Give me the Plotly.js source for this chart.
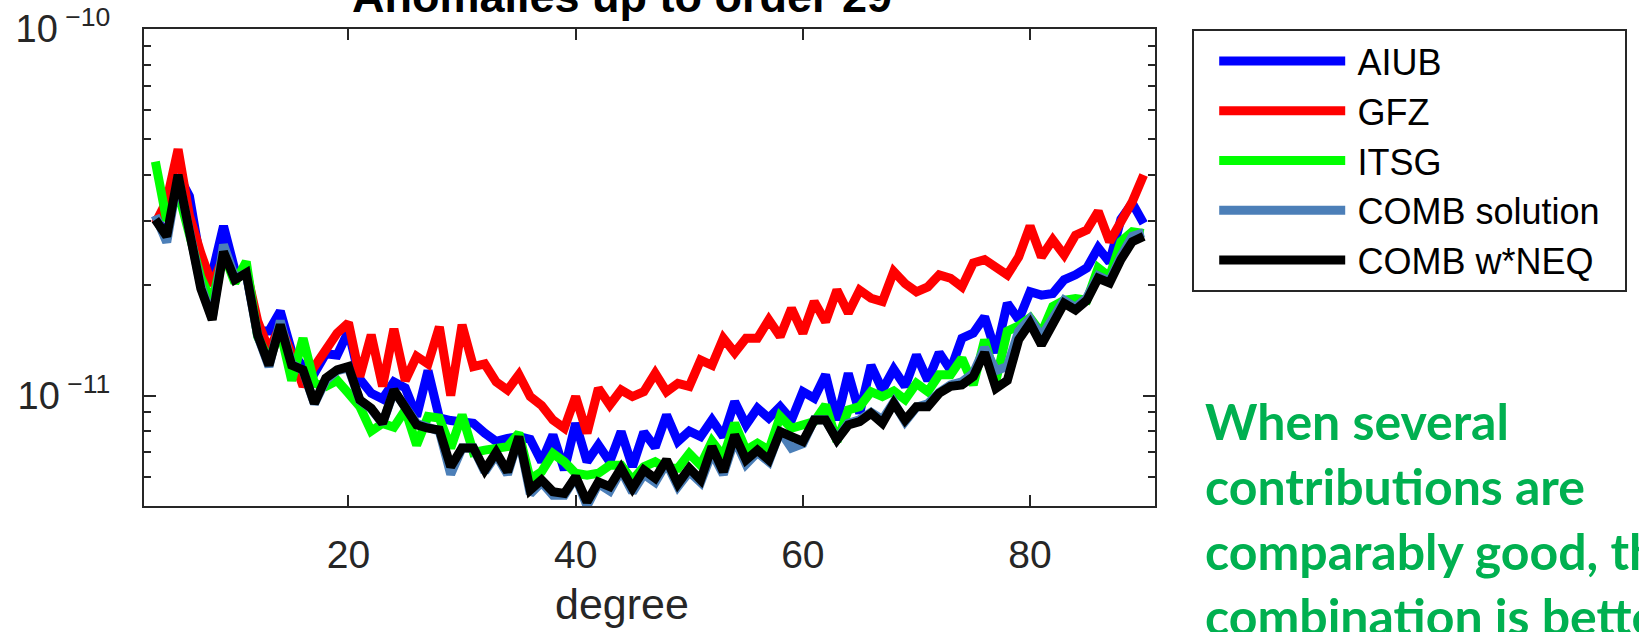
<!DOCTYPE html>
<html>
<head>
<meta charset="utf-8">
<script src="https://cdn.plot.ly/plotly-3.0.1.min.js"></script>
<style>
html,body{margin:0;padding:0;background:#fff;}
#chart{width:1639px;height:632px;}
</style>
</head>
<body>
<div id="chart"></div>
<script>
// degree (x)
const degrees = [3,4,5,6,7,8,9,10,11,12,13,14,15,16,17,18,19,20,21,22,23,24,25,26,27,28,29,30,
  31,32,33,34,35,36,37,38,39,40,41,42,43,44,45,46,47,48,49,50,51,52,53,54,55,56,57,58,59,60,
  61,62,63,64,65,66,67,68,69,70,71,72,73,74,75,76,77,78,79,80,81,82,83,84,85,86,87,88,89,90];

// values in units of 1e-11
const UNIT = 1e-11;
const aiub = [3.1,2.7,4.0,3.5,2.3,2.15,2.9,2.2,2.15,1.5,1.5,1.7,1.32,1.2,1.15,1.3,1.29,1.5,1.11,1.015,
  0.98,1.09,1.05,0.877,1.17,0.87,0.855,0.85,0.84,0.79,0.75,0.765,0.773,0.76,0.66,0.781,0.627,0.841,0.66,0.733,
  0.66,0.798,0.64,0.795,0.723,0.886,0.75,0.8,0.773,0.858,0.773,0.963,0.832,0.924,0.868,0.933,0.858,1.025,0.984,1.14,
  0.858,1.15,0.895,1.21,1.036,1.18,1.06,1.29,1.1,1.31,1.175,1.434,1.48,1.64,1.31,1.786,1.61,1.92,1.88,1.9,
  2.07,2.135,2.23,2.53,2.31,3.03,3.35,2.95];
const gfz = [2.95,3.4,4.7,3.1,2.45,2.0,2.4,2.1,2.2,1.6,1.33,1.55,1.3,1.06,1.2,1.33,1.48,1.58,1.127,1.465,
  1.06,1.52,1.1,1.28,1.22,1.54,1.0,1.56,1.2,1.22,1.09,1.036,1.14,0.994,0.94,0.858,0.815,0.994,0.79,1.047,
  0.943,1.036,0.994,1.025,1.15,1.025,1.08,1.06,1.25,1.21,1.434,1.31,1.434,1.434,1.61,1.45,1.73,1.48,1.805,1.59,
  1.94,1.68,1.94,1.844,1.805,2.18,2.02,1.92,1.98,2.135,2.09,1.98,2.3,2.35,2.25,2.135,2.39,2.9,2.39,2.66,
  2.42,2.74,2.83,3.18,2.63,3.01,3.38,4.0];
const itsg = [4.35,3.0,3.6,2.8,2.1,1.8,2.45,2.03,2.32,1.45,1.25,1.5,1.1,1.434,1.08,1.06,1.1,1.015,0.933,0.8,
  0.84,0.82,0.914,0.733,0.877,0.868,0.72,0.886,0.7,0.71,0.718,0.726,0.79,0.592,0.62,0.695,0.66,0.614,0.607,0.614,
  0.646,0.646,0.589,0.64,0.66,0.634,0.634,0.695,0.646,0.75,0.682,0.841,0.71,0.741,0.71,0.877,0.815,0.832,0.849,0.943,
  0.75,0.914,0.933,1.025,0.994,1.03,0.975,1.08,1.025,1.14,1.14,1.265,1.07,1.42,1.1,1.5,1.55,1.63,1.48,1.75,
  1.82,1.84,1.82,2.23,2.11,2.63,2.8,2.77];
const combSolution = [3.1,2.62,3.95,2.85,2.0,1.62,2.58,2.1,2.15,1.46,1.2,1.6,1.22,1.17,0.95,1.1,1.17,1.19,0.97,0.92,
  0.84,1.03,0.92,0.84,0.82,0.80,0.61,0.72,0.72,0.62,0.69,0.61,0.77,0.54,0.58,0.535,0.535,0.6,0.5,0.575,
  0.55,0.625,0.545,0.61,0.58,0.655,0.565,0.62,0.58,0.7,0.61,0.76,0.65,0.7,0.66,0.8,0.72,0.74,0.86,0.86,
  0.76,0.84,0.86,0.9,0.86,0.96,0.85,0.93,0.95,1.02,1.07,1.09,1.15,1.35,1.17,1.2,1.5,1.62,1.45,1.62,
  1.82,1.74,1.85,2.12,2.05,2.4,2.72,2.78];
const combWNEQ = [3.02,2.72,4.0,2.83,1.96,1.61,2.47,2.07,2.16,1.465,1.21,1.56,1.21,1.175,0.953,1.116,1.175,1.2,0.973,0.924,
  0.841,1.036,0.924,0.832,0.815,0.806,0.64,0.72,0.72,0.627,0.7,0.62,0.773,0.553,0.589,0.547,0.541,0.601,0.513,0.582,
  0.565,0.634,0.559,0.627,0.595,0.668,0.575,0.634,0.589,0.726,0.62,0.781,0.668,0.71,0.668,0.798,0.773,0.75,0.858,0.858,
  0.757,0.832,0.849,0.895,0.841,0.953,0.858,0.933,0.933,1.015,1.06,1.07,1.127,1.31,1.047,1.1,1.42,1.575,1.375,1.59,
  1.786,1.713,1.82,2.09,2.03,2.35,2.63,2.72];

const seriesNames = ['AIUB','GFZ','ITSG','COMB solution','COMB w*NEQ'];
const seriesData = [aiub, gfz, itsg, combSolution, combWNEQ];
const seriesColors = ['#0000ff','#ff0000','#00ff00','#4c7fb8','#000000'];

const xTickVals = [20,40,60,80];
const yTickVals = [1e-11, 1e-10];
const yTickText = ['10<sup>\u00a0\u221211</sup>','10<sup>\u00a0\u221210</sup>'];
const yMinorVals = [5e-12,6e-12,7e-12,8e-12,9e-12,2e-11,3e-11,4e-11,5e-11,6e-11,7e-11,8e-11,9e-11];

const titleText = 'Anomalies up to order 29';
const xTitleText = 'degree';
const noteText = 'When several<br>contributions are<br>comparably good, the<br>combination is better';

const FONT = 'Liberation Sans, Arial, sans-serif';
const longest = Math.max(...seriesNames.map(s => s.length));
const traces = seriesData.map((arr, i) => ({
  type: 'scatter', mode: 'lines',
  // thin space before the name reproduces the gap between sample line and text
  name: '\u2009' + seriesNames[i] + (seriesNames[i].length === longest ? '\u00a0\u00a0' : ''),
  x: degrees, y: arr.map(v => v * UNIT),
  line: {color: seriesColors[i], width: 9, shape: 'linear'},
  hoverinfo: 'skip'
}));

const axisColor = '#262626';
const layout = {
  width: 1639, height: 632,
  margin: {l: 144, r: 482, t: 29, b: 126, pad: 0},
  paper_bgcolor: '#ffffff', plot_bgcolor: '#ffffff',
  font: {family: FONT, color: axisColor},
  showlegend: true,
  xaxis: {
    range: [2, 91], tickmode: 'array', tickvals: xTickVals,
    ticks: 'inside', ticklen: 11, tickwidth: 2, tickcolor: axisColor,
    showline: true, linecolor: axisColor, linewidth: 2, mirror: 'ticks',
    showgrid: false, zeroline: false,
    tickfont: {size: 39, color: axisColor, family: FONT},
    ticklabelstandoff: 13
  },
  yaxis: {
    type: 'log', range: [Math.log10(5e-12), -10],
    tickmode: 'array', tickvals: yTickVals, ticktext: yTickText,
    ticks: 'inside', ticklen: 12, tickwidth: 2, tickcolor: axisColor,
    showline: true, linecolor: axisColor, linewidth: 2, mirror: 'ticks',
    showgrid: false, zeroline: false,
    tickfont: {size: 38, color: axisColor, family: FONT},
    ticklabelstandoff: 24,
    minor: {tickmode: 'array', tickvals: yMinorVals, ticks: 'inside', ticklen: 7, tickwidth: 2, tickcolor: axisColor, showgrid: false}
  },
  legend: {
    x: 1.0368, y: 1, xanchor: 'left', yanchor: 'top',
    bordercolor: axisColor, borderwidth: 2, bgcolor: '#ffffff',
    font: {size: 36, color: '#000000', family: FONT},
    itemwidth: 126, tracegroupgap: 0, indentation: 20
  },
  annotations: [
    {text: '<b>' + titleText + '</b>', xref: 'paper', yref: 'paper', x: 0.473, y: 1, yshift: 5,
     xanchor: 'center', yanchor: 'bottom', showarrow: false,
     font: {size: 45, color: '#000000', family: FONT}},
    {text: xTitleText, xref: 'paper', yref: 'paper', x: 0.473, y: -0.205,
     xanchor: 'center', yanchor: 'middle', showarrow: false,
     font: {size: 43, color: axisColor, family: FONT}},
    {text: '<b>' + noteText + '</b>', xref: 'paper', yref: 'paper', x: 1.0474, y: 0.245,
     xanchor: 'left', yanchor: 'top', align: 'left', showarrow: false,
     font: {size: 50, color: '#00b050', family: 'Lato, Open Sans, sans-serif'}}
  ]
};

Plotly.newPlot('chart', traces, layout, {displayModeBar: false, staticPlot: true});
</script>
</body>
</html>
